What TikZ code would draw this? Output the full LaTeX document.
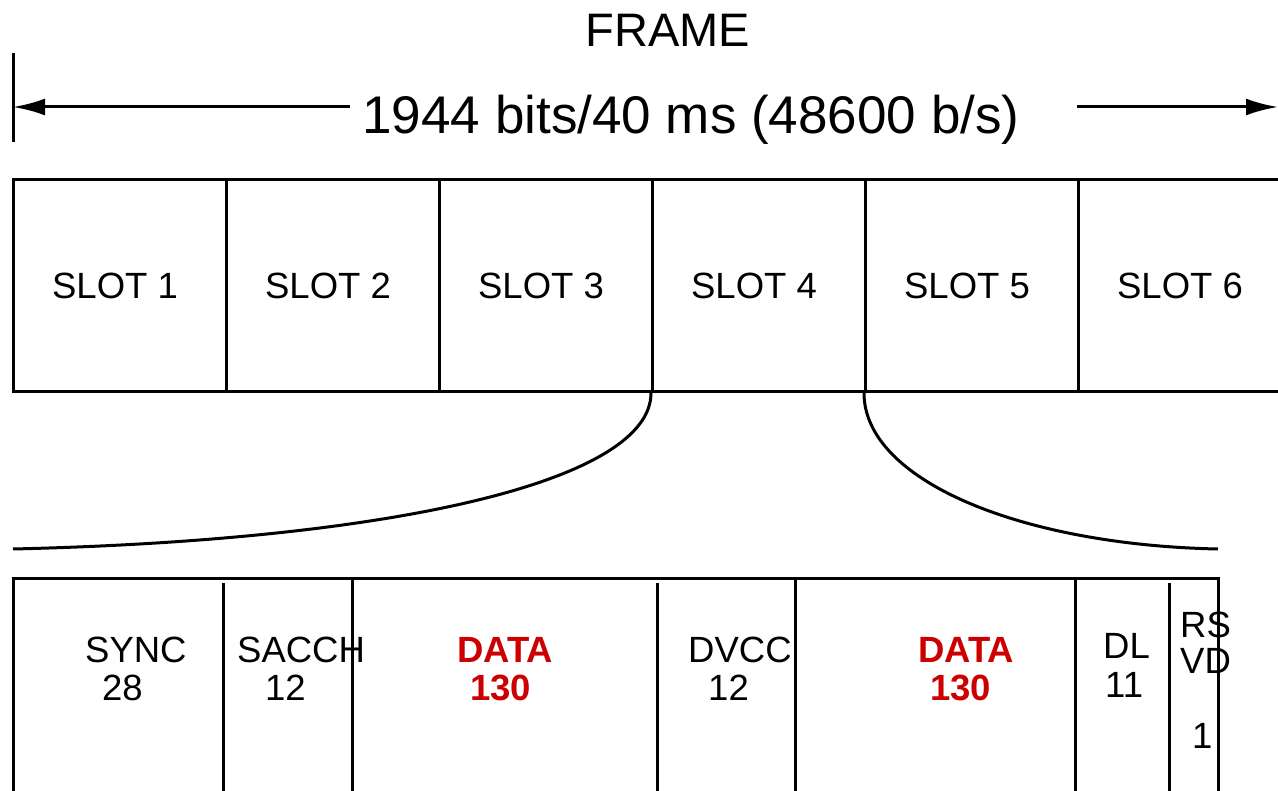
\documentclass[tikz,border=0pt]{standalone}
\usepackage{fontspec}
\setmainfont{Liberation Sans}
\usetikzlibrary{arrows.meta}
\definecolor{datared}{HTML}{CC0000}
\tikzset{
  ln/.style={line width=3pt},
  slotbox/.style={draw, line width=3pt, minimum width=213pt, minimum height=212pt, inner sep=0pt, anchor=north west, font=\fontsize{36.5}{40}\selectfont, text depth=0pt},
  fld/.style={inner sep=0pt, anchor=base west, font=\fontsize{36.5}{40}\selectfont},
  dfld/.style={fld, text=datared, font=\fontsize{36.5}{40}\selectfont\bfseries},
  arr/.style={ln, -{Latex[length=32pt,width=17pt]}},
}
\begin{document}
\begin{tikzpicture}[x=1pt,y=-1pt]
\useasboundingbox (0,0) rectangle (1278,791);
% header
\node[inner sep=0pt, anchor=base, font=\fontsize{47}{50}\selectfont] (frame) at (668,47) {FRAME};
\node[inner sep=0pt, anchor=base, font=\fontsize{53}{56}\selectfont] (rate) at (691,134) {1944 bits/40 ms (48600 b/s)};
\coordinate (barT) at (13,53);
\coordinate (barB) at (13,142);
\draw[ln] (barT) -- (barB);
\coordinate (lstart) at (350,107);
\coordinate (ltip) at (13,107);
\coordinate (rstart) at (1077,107);
\coordinate (rtip) at (1278,107);
\draw[arr] (lstart) -- (ltip);
\draw[arr] (rstart) -- (rtip);
% slots
\node[slotbox] (s1) at (12,178) {\hspace*{-10pt}SLOT 1};
\node[slotbox] (s2) at (225,178) {\hspace*{-10pt}SLOT 2};
\node[slotbox] (s3) at (438,178) {\hspace*{-10pt}SLOT 3};
\node[slotbox] (s4) at (651,178) {\hspace*{-10pt}SLOT 4};
\node[slotbox] (s5) at (864,178) {\hspace*{-10pt}SLOT 5};
\node[slotbox] (s6) at (1077,178) {\hspace*{-10pt}SLOT 6};
% expansion curves
\coordinate (cl) at (13,549);
\coordinate (cr) at (1218,549);
\draw[ln] (s4.south west) .. controls (651,480) and (400,540) .. (cl);
\draw[ln] (s5.south west) .. controls (864,480) and (1020,545) .. (cr);
% bottom slot structure
\coordinate (bTL) at (13,578);
\coordinate (bTR) at (1218,578);
\coordinate (bBL) at (13,795);
\coordinate (bBR) at (1218,795);
\draw[ln] (bBL) -- (bTL) -- (bTR) -- (bBR);
\draw[ln] (223,583) -- (223,795);
\draw[ln] (352,578) -- (352,795);
\draw[ln] (657,583) -- (657,795);
\draw[ln] (795,578) -- (795,795);
\draw[ln] (1075,578) -- (1075,795);
\draw[ln] (1169,583) -- (1169,795);
% field labels
\node[fld] (sync) at (85,662) {SYNC};
\node[fld] (syncn) at (102,700) {28};
\node[fld] (sacch) at (237,662) {SACCH};
\node[fld] (sacchn) at (265,700) {12};
\node[dfld] (data1) at (457,662) {DATA};
\node[dfld] (data1n) at (470,700) {130};
\node[fld] (dvcc) at (688,662) {DVCC};
\node[fld] (dvccn) at (708,700) {12};
\node[dfld] (data2) at (918,662) {DATA};
\node[dfld] (data2n) at (930,700) {130};
\node[fld] (dl) at (1103,658) {DL};
\node[fld] (dln) at (1105,697) {11};
\node[fld] (rs) at (1180,637) {RS};
\node[fld] (vd) at (1180,673) {VD};
\node[fld] (rsvdn) at (1192,748) {1};
\end{tikzpicture}
\end{document}
